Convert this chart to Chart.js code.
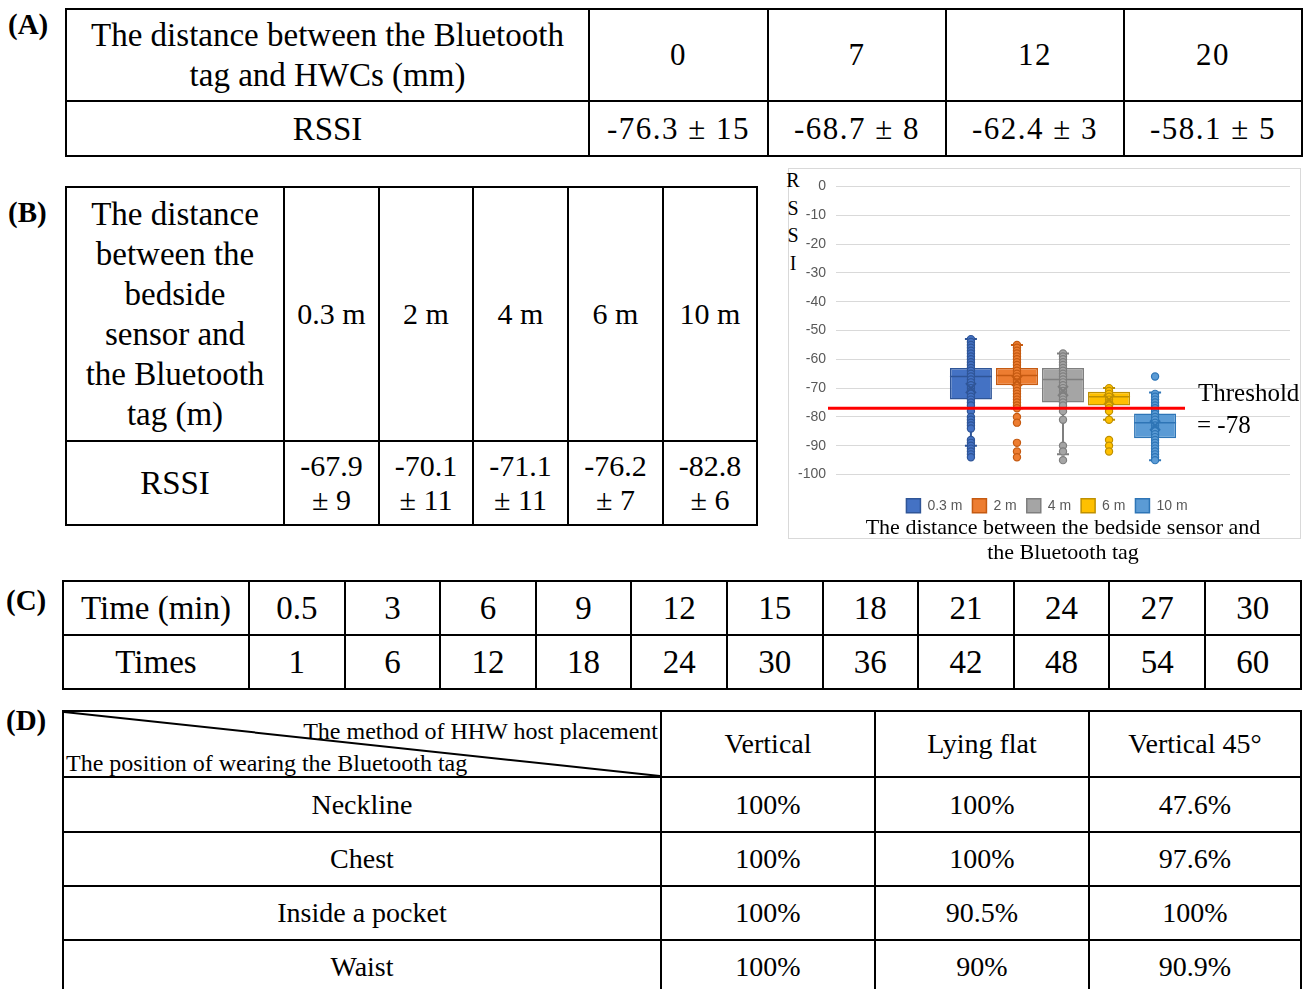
<!DOCTYPE html>
<html>
<head>
<meta charset="utf-8">
<script src="https://cdn.jsdelivr.net/npm/chart.js@4.4.1/dist/chart.umd.min.js"></script>
<style>
html,body{margin:0;padding:0;background:#fff}
#page{position:relative;width:1307px;height:989px;overflow:hidden;font-family:"Liberation Serif","Times New Roman",serif;color:#000}
.lbl{position:absolute;font-weight:bold;font-size:29px;line-height:30px}
table{position:absolute;border-collapse:collapse;table-layout:fixed}
td{border:2px solid #000;text-align:center;vertical-align:middle;padding:0;white-space:nowrap}
.t33{font-size:33px;line-height:40px}
.t30{font-size:30px;line-height:34px}
.t31{font-size:31px;line-height:34px;letter-spacing:1.5px}
.t28{font-size:28px}
#panel{position:absolute;left:788px;top:168px;width:511px;height:369px;border:1px solid #d9d9d9}
#rssi{position:absolute;left:785px;top:167px;width:16px;font-size:20px;line-height:27.5px;text-align:center}
#wrap{position:absolute;left:788px;top:168px;width:519px;height:400px}
.diag{position:relative}
.diag svg{position:absolute;left:0;top:0;width:100%;height:100%}
.diag .tr{position:absolute;right:2px;top:5px;font-size:24px;line-height:28px}
.diag .bl{position:absolute;left:2px;bottom:-1px;font-size:24px;line-height:28px}
</style>
</head>
<body>
<div id="page">

<div class="lbl" style="left:8px;top:9px">(A)</div>
<table style="left:65px;top:8px;width:1236px">
<colgroup><col style="width:523px"><col style="width:179px"><col style="width:178px"><col style="width:178px"><col style="width:178px"></colgroup>
<tr style="height:92px"><td class="t33">The distance between the Bluetooth<br>tag and HWCs (mm)</td><td class="t31">0</td><td class="t31">7</td><td class="t31">12</td><td class="t31">20</td></tr>
<tr style="height:55px"><td class="t33">RSSI</td><td class="t31">-76.3 ± 15</td><td class="t31">-68.7 ± 8</td><td class="t31">-62.4 ± 3</td><td class="t31">-58.1 ± 5</td></tr>
</table>

<div class="lbl" style="left:8px;top:197px">(B)</div>
<table style="left:65px;top:186px;width:691px">
<colgroup><col style="width:218px"><col style="width:95px"><col style="width:94px"><col style="width:95px"><col style="width:95px"><col style="width:94px"></colgroup>
<tr style="height:254px"><td class="t33">The distance<br>between the<br>bedside<br>sensor and<br>the Bluetooth<br>tag (m)</td><td class="t30">0.3 m</td><td class="t30">2 m</td><td class="t30">4 m</td><td class="t30">6 m</td><td class="t30">10 m</td></tr>
<tr style="height:84px"><td class="t33">RSSI</td><td class="t30">-67.9<br>± 9</td><td class="t30">-70.1<br>± 11</td><td class="t30">-71.1<br>± 11</td><td class="t30">-76.2<br>± 7</td><td class="t30">-82.8<br>± 6</td></tr>
</table>

<div id="panel"></div>
<div id="rssi">R<br>S<br>S<br>I</div>
<div id="wrap"><canvas id="boxChart" width="519" height="400"></canvas></div>

<div class="lbl" style="left:6px;top:585px">(C)</div>
<table style="left:62px;top:580px;width:1238px">
<colgroup><col style="width:186px"><col span="11" style="width:95.6px"></colgroup>
<tr style="height:54px" class="t33"><td>Time (min)</td><td>0.5</td><td>3</td><td>6</td><td>9</td><td>12</td><td>15</td><td>18</td><td>21</td><td>24</td><td>27</td><td>30</td></tr>
<tr style="height:54px" class="t33"><td>Times</td><td>1</td><td>6</td><td>12</td><td>18</td><td>24</td><td>30</td><td>36</td><td>42</td><td>48</td><td>54</td><td>60</td></tr>
</table>

<div class="lbl" style="left:6px;top:705px">(D)</div>
<table style="left:62px;top:710px;width:1238px" class="t28">
<colgroup><col style="width:598px"><col style="width:214px"><col style="width:214px"><col style="width:212px"></colgroup>
<tr style="height:66px"><td class="diag"><svg viewBox="0 0 100 100" preserveAspectRatio="none"><line x1="0" y1="0" x2="100" y2="100" stroke="#000" stroke-width="2" vector-effect="non-scaling-stroke"/></svg><span class="tr">The method of HHW host placement</span><span class="bl">The position of wearing the Bluetooth tag</span></td><td>Vertical</td><td>Lying flat</td><td>Vertical 45°</td></tr>
<tr style="height:55px"><td>Neckline</td><td>100%</td><td>100%</td><td>47.6%</td></tr>
<tr style="height:54px"><td>Chest</td><td>100%</td><td>100%</td><td>97.6%</td></tr>
<tr style="height:54px"><td>Inside a pocket</td><td>100%</td><td>90.5%</td><td>100%</td></tr>
<tr style="height:54px"><td>Waist</td><td>100%</td><td>90%</td><td>90.9%</td></tr>
</table>

</div>
<script>
// box plot values
const SERIES = ['0.3 m', '2 m', '4 m', '6 m', '10 m'];
const Q1 = [-74, -69, -75, -76, -87.4];
const Q3 = [-63, -63, -63, -71.3, -78.8];
const MEDIAN = [-66, -65.6, -67, -73, -82];
const MEAN = [-70, -67.5, -71, -74, -83];
const WHISK_HI = [-53, -55, -58, -70, -71.5];
const WHISK_LO = [-90, -77, -93, -81, -95];
const PTS_03 = [-53,-54,-55,-56,-57,-58,-59,-60,-61,-62,-63,-64,-65,-66,-67,-68,-69,-70,-71,-72,-73,-74,-75,-76,-78,-80,-81,-82,-83,-84,-88,-89,-90,-91,-92,-93,-94];
const PTS_2 = [-55,-56,-57,-58,-59,-60,-61,-62,-63,-64,-65,-66,-67,-68,-69,-70,-71,-72,-73,-74,-75,-76,-77,-80,-82,-89,-92,-94];
const PTS_4 = [-58,-59,-60,-61,-62,-63,-64,-65,-66,-67,-68,-69,-70,-71,-72,-73,-74,-75,-76,-78,-81,-90,-92,-95];
const PTS_6 = [-70,-71,-72,-73,-74,-75,-76,-77,-78,-81,-88,-90,-92];
const PTS_10 = [-66,-72,-73,-74,-75,-76,-77,-78,-79,-80,-81,-82,-83,-84,-85,-86,-87,-88,-89,-90,-91,-92,-93,-94,-95];
const POINTS = [PTS_03, PTS_2, PTS_4, PTS_6, PTS_10];
const THRESHOLD_AT = -77;   // where the red line sits in the picture
const THRESHOLD_TXT = ['Threshold', '= -78'];
const Y_TICKS = [0, -10, -20, -30, -40, -50, -60, -70, -80, -90, -100];

const FILL = ['#4472C4', '#ED7D31', '#A5A5A5', '#FFC000', '#5B9BD5'];
const EDGE = ['#2F5597', '#C55A11', '#7F7F7F', '#BF9000', '#2E75B6'];

const boxExtras = {
  id: 'boxExtras',
  afterLayout(chart) {
    // legend sits a little left of the plot centre in the original
    chart.legend.left -= 16;
    chart.legend.right -= 16;
  },
  beforeDatasetsDraw(chart) {
    const ctx = chart.ctx, y = chart.scales.y;
    SERIES.forEach((s, i) => {
      const b = chart.getDatasetMeta(i).data[0];
      ctx.save();
      ctx.strokeStyle = EDGE[i]; ctx.lineWidth = 2;
      ctx.beginPath();
      ctx.moveTo(b.x, y.getPixelForValue(WHISK_HI[i]));
      ctx.lineTo(b.x, y.getPixelForValue(WHISK_LO[i]));
      [WHISK_HI[i], WHISK_LO[i]].forEach(v => {
        const py = y.getPixelForValue(v);
        ctx.moveTo(b.x - 6, py); ctx.lineTo(b.x + 6, py);
      });
      ctx.stroke();
      ctx.restore();
    });
  },
  afterDatasetsDraw(chart) {
    const ctx = chart.ctx, y = chart.scales.y, area = chart.chartArea;
    SERIES.forEach((s, i) => {
      const b = chart.getDatasetMeta(i).data[0];
      const half = b.width / 2;
      ctx.save();
      // median
      ctx.strokeStyle = EDGE[i]; ctx.lineWidth = 1.5;
      ctx.beginPath();
      const pm = y.getPixelForValue(MEDIAN[i]);
      ctx.moveTo(b.x - half, pm); ctx.lineTo(b.x + half, pm);
      ctx.stroke();
      // inner points
      ctx.fillStyle = FILL[i]; ctx.lineWidth = 1.2;
      POINTS[i].forEach(v => {
        ctx.beginPath();
        ctx.arc(b.x, y.getPixelForValue(v), 3.6, 0, Math.PI * 2);
        ctx.fill(); ctx.stroke();
      });
      // mean marker
      const pmean = y.getPixelForValue(MEAN[i]);
      ctx.lineWidth = 2;
      ctx.beginPath();
      ctx.moveTo(b.x - 5, pmean - 5); ctx.lineTo(b.x + 5, pmean + 5);
      ctx.moveTo(b.x + 5, pmean - 5); ctx.lineTo(b.x - 5, pmean + 5);
      ctx.stroke();
      ctx.restore();
    });
    // threshold line and note
    const ty = y.getPixelForValue(THRESHOLD_AT);
    ctx.save();
    ctx.strokeStyle = '#FF0000'; ctx.lineWidth = 3;
    ctx.beginPath();
    ctx.moveTo(area.left - 8, ty); ctx.lineTo(area.left + 349, ty);
    ctx.stroke();
    ctx.fillStyle = '#000';
    ctx.font = '25px "Liberation Serif", "Times New Roman", serif';
    ctx.textBaseline = 'middle';
    ctx.fillText(THRESHOLD_TXT[0], area.right - 92, ty - 14);
    ctx.fillText(THRESHOLD_TXT[1], area.right - 93, ty + 18);
    ctx.restore();
  }
};

new Chart(document.getElementById('boxChart'), {
  type: 'bar',
  data: {
    labels: [''],
    datasets: SERIES.map((s, i) => ({
      label: s,
      data: [[Q1[i], Q3[i]]],
      backgroundColor: FILL[i],
      borderColor: EDGE[i],
      borderWidth: 1.5,
      borderSkipped: false,
      categoryPercentage: 0.507,
      barPercentage: 0.913
    }))
  },
  options: {
    responsive: false,
    animation: false,
    layout: { padding: { top: 10, right: 17, left: 0, bottom: 2 } },
    scales: {
      x: {
        grid: { display: false },
        border: { display: false },
        ticks: { display: false },
        afterFit: s => { s.height = 14.3; }
      },
      y: {
        min: -100, max: 0,
        afterBuildTicks: s => { s.ticks = Y_TICKS.map(v => ({ value: v })); },
        afterFit: s => { s.width = 48; },
        grid: { color: '#d9d9d9', drawTicks: false },
        border: { display: false },
        ticks: { color: '#595959', padding: 10, font: { family: '"Liberation Sans", Arial, sans-serif', size: 14 } }
      }
    },
    plugins: {
      tooltip: { enabled: false },
      legend: {
        position: 'bottom',
        fullSize: false,
        labels: { boxWidth: 14, boxHeight: 14, padding: 10, color: '#595959', font: { family: '"Liberation Sans", Arial, sans-serif', size: 14 } }
      },
      title: {
        display: true,
        position: 'bottom',
        fullSize: false,
        text: ['The distance between the bedside sensor and', 'the Bluetooth tag'],
        color: '#000',
        font: { family: '"Liberation Serif", "Times New Roman", serif', size: 22, weight: 'normal', lineHeight: 1.14 },
        padding: { top: -7, bottom: 0 }
      }
    }
  },
  plugins: [boxExtras]
});
</script>
</body>
</html>
